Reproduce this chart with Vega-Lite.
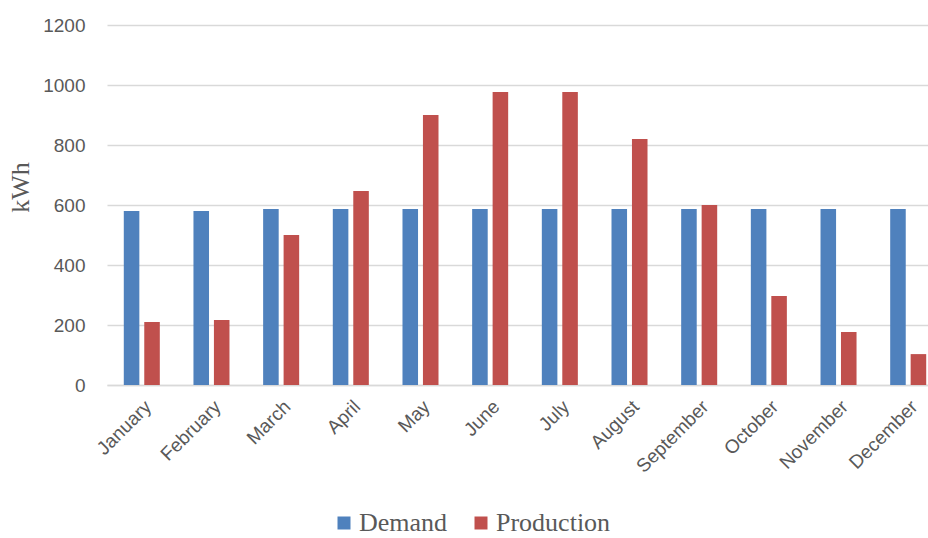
{
  "$schema": "https://vega.github.io/schema/vega-lite/v6.json",
  "width": 819,
  "height": 360,
  "autosize": {"type": "none"},
  "padding": {"left": 106, "top": 25, "right": 3, "bottom": 153},
  "background": "white",
  "config": {
    "view": {"stroke": null},
    "axis": {"labelColor": "#595959", "titleColor": "#595959"}
  },
  "data": {
    "values": [
      {"month": "January", "series": "Demand", "kWh": 580},
      {"month": "January", "series": "Production", "kWh": 210},
      {"month": "February", "series": "Demand", "kWh": 580},
      {"month": "February", "series": "Production", "kWh": 217},
      {"month": "March", "series": "Demand", "kWh": 587},
      {"month": "March", "series": "Production", "kWh": 500},
      {"month": "April", "series": "Demand", "kWh": 587},
      {"month": "April", "series": "Production", "kWh": 647},
      {"month": "May", "series": "Demand", "kWh": 587},
      {"month": "May", "series": "Production", "kWh": 900},
      {"month": "June", "series": "Demand", "kWh": 587},
      {"month": "June", "series": "Production", "kWh": 977},
      {"month": "July", "series": "Demand", "kWh": 587},
      {"month": "July", "series": "Production", "kWh": 977},
      {"month": "August", "series": "Demand", "kWh": 587},
      {"month": "August", "series": "Production", "kWh": 820},
      {"month": "September", "series": "Demand", "kWh": 587},
      {"month": "September", "series": "Production", "kWh": 600},
      {"month": "October", "series": "Demand", "kWh": 587},
      {"month": "October", "series": "Production", "kWh": 297},
      {"month": "November", "series": "Demand", "kWh": 587},
      {"month": "November", "series": "Production", "kWh": 177},
      {"month": "December", "series": "Demand", "kWh": 587},
      {"month": "December", "series": "Production", "kWh": 103}
    ]
  },
  "mark": {"type": "bar"},
  "encoding": {
    "x": {
      "field": "month",
      "type": "nominal",
      "sort": null,
      "scale": {"range": [1, 837], "paddingInner": 0.483, "paddingOuter": 0.241},
      "axis": {
        "title": null,
        "labelAngle": -45,
        "labelAlign": "right",
        "labelBaseline": "top",
        "labelFont": "Liberation Sans",
        "labelFontSize": 19,
        "labelPadding": 12,
        "ticks": false,
        "domainColor": "#d9d9d9",
        "domainWidth": 1.5
      }
    },
    "xOffset": {
      "field": "series",
      "type": "nominal",
      "scale": {"paddingInner": 0.24, "paddingOuter": 0}
    },
    "y": {
      "field": "kWh",
      "type": "quantitative",
      "scale": {"domain": [0, 1200]},
      "axis": {
        "title": "kWh",
        "titleFont": "Liberation Serif",
        "titleFontSize": 26,
        "titleFontWeight": "normal",
        "titleX": -73,
        "titleY": 162,
        "values": [0, 200, 400, 600, 800, 1000, 1200],
        "format": "d",
        "labelFont": "Liberation Sans",
        "labelFontSize": 19,
        "labelPadding": 21,
        "ticks": false,
        "domain": false,
        "gridColor": "#d9d9d9",
        "gridWidth": 1.3
      }
    },
    "color": {
      "field": "series",
      "type": "nominal",
      "scale": {"domain": ["Demand", "Production"], "range": ["#4f81bd", "#c0504d"]},
      "legend": {
        "title": null,
        "orient": "none",
        "direction": "horizontal",
        "legendX": 225,
        "legendY": 485,
        "symbolType": "square",
        "symbolSize": 169,
        "symbolStrokeWidth": 0,
        "symbolOpacity": 1,
        "labelFont": "Liberation Serif",
        "labelFontSize": 26,
        "labelColor": "#595959",
        "labelOffset": 2,
        "columnPadding": 20
      }
    }
  }
}
